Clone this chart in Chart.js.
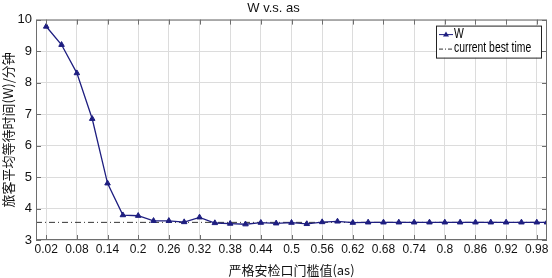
<!DOCTYPE html>
<html>
<head>
<meta charset="utf-8">
<script src="https://cdn.jsdelivr.net/npm/chart.js@4"></script>
<style>
  html, body { margin: 0; padding: 0; background: #fff; }
  #wrap { width: 552px; height: 278px; }
</style>
</head>
<body>
<div id="wrap"><canvas id="chart"></canvas></div>
<script>
// threshold values (as) and mean waiting time (W)
const asValues = [0.02, 0.05, 0.08, 0.11, 0.14, 0.17, 0.20, 0.23, 0.26, 0.29, 0.32, 0.35,
    0.38, 0.41, 0.44, 0.47, 0.50, 0.53, 0.56, 0.59, 0.62, 0.65, 0.68, 0.71, 0.74, 0.77,
    0.80, 0.83, 0.86, 0.89, 0.92, 0.95, 0.98, 1.00];
const waitTimes = [9.78, 9.20, 8.30, 6.85, 4.80, 3.79, 3.77, 3.61, 3.61, 3.57, 3.72, 3.54,
    3.52, 3.50, 3.55, 3.53, 3.55, 3.51, 3.57, 3.59, 3.55, 3.56, 3.56, 3.56, 3.56, 3.56,
    3.56, 3.56, 3.56, 3.56, 3.56, 3.56, 3.56, 3.56];
const bestTimeX = [0, 1];
const bestTime = [3.56, 3.56];

const xTickValues = [0.02, 0.08, 0.14, 0.2, 0.26, 0.32, 0.38, 0.44, 0.5, 0.56, 0.62, 0.68,
    0.74, 0.8, 0.86, 0.92, 0.98];
const xTickLabels = ['0.02', '0.08', '0.14', '0.2', '0.26', '0.32', '0.38', '0.44', '0.5',
    '0.56', '0.62', '0.68', '0.74', '0.8', '0.86', '0.92', '0.98'];
const yTickValues = [3, 4, 5, 6, 7, 8, 9, 10];

const NAVY = 'rgb(30, 30, 128)';
const AXIS = '#6e6e6e';

// frame on all four sides plus inward tick marks, like the original plot
const framePlugin = {
    id: 'frame',
    afterDatasetsDraw(chart) {
        const ctx = chart.ctx;
        const a = chart.chartArea;
        const xs = chart.scales.x;
        const ys = chart.scales.y;
        ctx.save();
        ctx.strokeStyle = AXIS;
        ctx.lineWidth = 1;
        ctx.strokeRect(a.left + 0.5, a.top + 0.5, a.right - a.left - 1, a.bottom - a.top - 1);
        ctx.beginPath();
        xTickValues.forEach(v => {
            const px = Math.round(xs.getPixelForValue(v)) + 0.5;
            ctx.moveTo(px, a.bottom);
            ctx.lineTo(px, a.bottom - 5);
            ctx.moveTo(px, a.top);
            ctx.lineTo(px, a.top + 5);
        });
        yTickValues.forEach(v => {
            const py = Math.round(ys.getPixelForValue(v)) + 0.5;
            ctx.moveTo(a.left, py);
            ctx.lineTo(a.left + 5, py);
            ctx.moveTo(a.right, py);
            ctx.lineTo(a.right - 5, py);
        });
        ctx.stroke();
        ctx.restore();
    }
};

// boxed legend in the top right corner of the plot
const legendBoxPlugin = {
    id: 'legendBox',
    afterDraw(chart) {
        const ctx = chart.ctx;
        const a = chart.chartArea;
        const w = 105, h = 32;
        const x0 = a.right - 6 - w;
        const y0 = a.top + 6;
        ctx.save();
        ctx.fillStyle = '#fff';
        ctx.fillRect(x0, y0, w, h);
        ctx.strokeStyle = '#222';
        ctx.lineWidth = 1;
        ctx.strokeRect(x0 + 0.5, y0 + 0.5, w, h);

        // W entry
        const r1 = y0 + 9;
        ctx.strokeStyle = NAVY;
        ctx.beginPath();
        ctx.moveTo(x0 + 3, r1);
        ctx.lineTo(x0 + 17, r1);
        ctx.stroke();
        ctx.fillStyle = NAVY;
        ctx.beginPath();
        ctx.moveTo(x0 + 10, r1 - 3);
        ctx.lineTo(x0 + 13, r1 + 2);
        ctx.lineTo(x0 + 7, r1 + 2);
        ctx.closePath();
        ctx.fill();

        // best time entry
        const r2 = y0 + 23;
        ctx.strokeStyle = '#333';
        ctx.setLineDash([4, 2, 1, 2]);
        ctx.beginPath();
        ctx.moveTo(x0 + 3, r2 + 0.5);
        ctx.lineTo(x0 + 17, r2 + 0.5);
        ctx.stroke();
        ctx.setLineDash([]);

        // narrow lettering: squeeze the text horizontally
        ctx.fillStyle = '#000';
        ctx.font = '14px "Liberation Sans", Arial, sans-serif';
        ctx.textBaseline = 'middle';
        ctx.textAlign = 'left';
        ctx.translate(x0 + 18, 0);
        ctx.scale(0.74, 1);
        ctx.fillText(chart.data.datasets[0].label, 0, r1);
        ctx.fillText(chart.data.datasets[1].label, 0, r2);
        ctx.restore();
    }
};

const ctx = document.getElementById('chart').getContext('2d');
new Chart(ctx, {
    type: 'line',
    data: {
        datasets: [{
            label: 'W',
            data: asValues.map((v, i) => ({ x: v, y: waitTimes[i] })),
            borderColor: NAVY,
            backgroundColor: NAVY,
            borderWidth: 1.3,
            pointStyle: 'triangle',
            pointRadius: 3.2,
            pointBorderWidth: 1,
            pointBackgroundColor: NAVY,
            pointBorderColor: NAVY,
            tension: 0
        }, {
            label: 'current best time',
            data: bestTimeX.map((v, i) => ({ x: v, y: bestTime[i] })),
            borderColor: '#333',
            borderWidth: 1,
            borderDash: [6, 3, 1, 3],
            pointRadius: 0,
            tension: 0
        }]
    },
    options: {
        responsive: true,
        maintainAspectRatio: false,
        animation: false,
        layout: { padding: { left: 0, right: 5, top: 0, bottom: 0 } },
        plugins: {
            legend: { display: false },
            tooltip: { enabled: false },
            title: {
                display: true,
                text: 'W v.s. as',
                color: '#111',
                font: { family: '"Liberation Sans", Arial, sans-serif', size: 13, weight: 'normal' },
                padding: { top: 1, bottom: 3 }
            }
        },
        scales: {
            x: {
                type: 'linear',
                min: 0,
                max: 1,
                afterBuildTicks: scale => {
                    scale.ticks = xTickValues.map(v => ({ value: v }));
                },
                afterFit: scale => { scale.height = 38; },
                ticks: {
                    autoSkip: false,
                    maxRotation: 0,
                    padding: 2,
                    color: '#111',
                    font: { family: '"Liberation Sans", Arial, sans-serif', size: 12 },
                    callback: (value, index) => xTickLabels[index]
                },
                grid: { color: '#dcdcdc', drawTicks: false },
                border: { display: false },
                title: {
                    display: true,
                    text: '严格安检口门槛值(as)',
                    color: '#111',
                    padding: { top: 1, bottom: 0 },
                    font: { family: '"Noto Sans CJK SC", sans-serif', size: 13 }
                }
            },
            y: {
                min: 3,
                max: 10,
                afterBuildTicks: scale => {
                    scale.ticks = yTickValues.map(v => ({ value: v }));
                },
                afterFit: scale => { scale.width = 36; },
                ticks: {
                    padding: 4,
                    color: '#111',
                    font: { family: '"Liberation Sans", Arial, sans-serif', size: 13 }
                },
                grid: { color: '#dcdcdc', drawTicks: false },
                border: { display: false },
                title: {
                    display: true,
                    text: '旅客平均等待时间(W)/分钟',
                    color: '#111',
                    padding: { top: 0, bottom: 0 },
                    font: { family: '"Noto Sans CJK SC", sans-serif', size: 13 }
                }
            }
        }
    },
    plugins: [framePlugin, legendBoxPlugin]
});
</script>
</body>
</html>
